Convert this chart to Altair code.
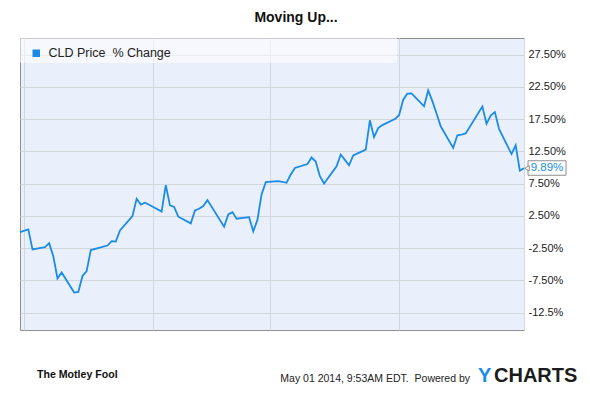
import altair as alt
import pandas as pd

# ---------------- data ----------------
DATES = [
    "2013-12-31",
    "2014-01-02", "2014-01-03", "2014-01-06", "2014-01-07", "2014-01-08", "2014-01-09", "2014-01-10",
    "2014-01-13", "2014-01-14", "2014-01-15", "2014-01-16", "2014-01-17", "2014-01-21", "2014-01-22",
    "2014-01-23", "2014-01-24", "2014-01-27", "2014-01-28", "2014-01-29", "2014-01-30", "2014-01-31",
    "2014-02-03", "2014-02-04", "2014-02-05", "2014-02-06", "2014-02-07", "2014-02-10", "2014-02-11",
    "2014-02-12", "2014-02-13", "2014-02-14", "2014-02-18", "2014-02-19", "2014-02-20", "2014-02-21",
    "2014-02-24", "2014-02-25", "2014-02-26", "2014-02-27", "2014-02-28",
    "2014-03-03", "2014-03-04", "2014-03-05", "2014-03-06", "2014-03-07", "2014-03-10", "2014-03-11",
    "2014-03-12", "2014-03-13", "2014-03-14", "2014-03-17", "2014-03-18", "2014-03-19", "2014-03-20",
    "2014-03-21", "2014-03-24", "2014-03-25", "2014-03-26", "2014-03-27", "2014-03-28", "2014-03-31",
    "2014-04-01", "2014-04-02", "2014-04-03", "2014-04-04", "2014-04-07", "2014-04-08", "2014-04-09",
    "2014-04-10", "2014-04-11", "2014-04-14", "2014-04-15", "2014-04-16", "2014-04-17", "2014-04-21",
    "2014-04-22", "2014-04-23", "2014-04-24", "2014-04-25", "2014-04-28", "2014-04-29", "2014-04-30",
    "2014-05-01",
]
PCT_CHANGE = [
    0.00,
    0.41, -2.69, -2.33, -1.73, -3.77, -7.21, -6.28,
    -9.39, -9.30, -6.82, -6.06, -2.79, -2.10, -1.42,
    -1.48, 0.26, 2.47, 5.16, 4.25, 4.54, 4.23,
    3.17, 7.27, 4.13, 3.89, 2.38, 1.34, 3.35,
    3.61, 4.02, 4.95, 0.83, 2.73, 3.09, 2.07,
    2.31, 0.10, 1.88, 5.83, 7.73,
    7.89, 7.79, 7.64, 8.92, 9.93, 10.55, 11.56,
    10.94, 8.66, 7.53, 10.21, 12.02, 11.20, 10.36,
    11.87, 12.79, 17.33, 14.73, 16.12, 16.59, 17.52,
    18.13, 20.53, 21.46, 21.51, 19.50, 21.97, 20.30,
    18.40, 16.40, 13.06, 15.01, 15.12, 15.30, 19.45,
    16.79, 18.06, 18.60, 16.01, 12.10, 13.46, 9.54,
    9.89,
]
SERIES_NAME = "CLD Price\u00a0 % Change"
TITLE = "Moving Up..."
X_DOMAIN = ["2013-12-31", "2014-05-01"]
MONTH_TICKS = ["2014-01-01", "2014-02-01", "2014-03-01", "2014-04-01", "2014-05-01"]
MONTH_LABELS = ["Jan '14", "Feb '14", "Mar '14", "Apr '14", "May '14"]
Y_DOMAIN = [-15.2, 30.1]
Y_TICKS = [-12.5, -7.5, -2.5, 2.5, 7.5, 12.5, 17.5, 22.5, 27.5]
Y_TICK_LABELS = ["-12.5%", "-7.50%", "-2.50%", "2.50%", "7.50%", "12.50%", "17.50%", "22.50%", "27.50%"]
FOOTER_BRAND = "The Motley Fool"
FOOTER_STAMP = "May 01 2014, 9:53AM EDT.\u00a0 Powered by"
YCHARTS_Y = "Y"
YCHARTS_REST = "CHARTS"

# ---------------- styling ----------------
FONT = "Liberation Sans"
LINE_COLOR = "#1a8ce8"
PLOT_BG = "#eaf0fb"
GRID = "#d3d6db"
BORDER = "#8e8e8e"
TEXT = "#222222"


def ms(s):
    return int(pd.Timestamp(s, tz="UTC").value // 10**6)


df = pd.DataFrame({"date": DATES, "pct": PCT_CHANGE, "series": SERIES_NAME})
last = df.tail(1).copy()
last["label"] = [f"{v:.2f}%" for v in last["pct"]]

month_ms = [ms(d) for d in MONTH_TICKS]
x_label_expr = " : ".join(
    f"datum.value == {m} ? \"{lab}\"" for m, lab in zip(month_ms, MONTH_LABELS)
) + " : ''"
y_label_expr = " : ".join(
    f"datum.value == {v} ? '{lab}'" for v, lab in zip(Y_TICKS, Y_TICK_LABELS)
) + " : ''"

x_enc = alt.X(
    "date:T",
    scale=alt.Scale(type="utc", domain=[ms(d) for d in X_DOMAIN]),
    axis=alt.Axis(
        title=None, values=month_ms, tickCount=len(month_ms) + 5, labelExpr=x_label_expr,
        grid=True, gridColor=GRID, ticks=False, domain=False, labelFlush=False,
        labelOverlap=False, labelPadding=5, labelFontSize=11, labelFont=FONT, labelColor=TEXT,
    ),
)
y_enc = alt.Y(
    "pct:Q",
    scale=alt.Scale(domain=Y_DOMAIN, nice=False, zero=False),
    axis=alt.Axis(
        title=None, orient="right", values=Y_TICKS, tickCount=len(Y_TICKS) + 5,
        labelExpr=y_label_expr, grid=True, gridColor=GRID, ticks=False, domain=False,
        labelOverlap=False, labelPadding=4, labelFontSize=11, labelFont=FONT, labelColor=TEXT,
    ),
)

band = alt.Chart(pd.DataFrame({"k": [SERIES_NAME]})).mark_rect(
    fill="white", opacity=0.55
).encode(x=alt.value(0), x2=alt.value(377), y=alt.value(0), y2=alt.value(25))

line = alt.Chart(df).mark_line(strokeWidth=1.8, interpolate="linear").encode(
    x=x_enc,
    y=y_enc,
    color=alt.Color(
        "series:N",
        scale=alt.Scale(range=[LINE_COLOR]),
        legend=alt.Legend(
            title=None, orient="none", legendX=10, legendY=9, symbolType="square",
            symbolSize=56, symbolFillColor=LINE_COLOR, symbolStrokeColor=LINE_COLOR,
            symbolStrokeWidth=0, labelFont=FONT, labelFontSize=12.5, labelColor=TEXT,
            labelOffset=6, padding=0,
        ),
    ),
)

callout_box = alt.Chart(last).mark_rect(
    fill="white", stroke=BORDER, strokeWidth=1, xOffset=4, x2Offset=42, yOffset=-7.5, y2Offset=7
).encode(x="date:T", x2="date:T", y="pct:Q", y2="pct:Q")

callout_tip = alt.Chart(last).mark_point(
    shape="triangle-left", size=28, filled=True, fill="white", stroke=BORDER,
    strokeWidth=1, xOffset=3, opacity=1
).encode(x="date:T", y="pct:Q")

callout_text = alt.Chart(last).mark_text(
    align="center", baseline="middle", dx=23, dy=0, font=FONT, fontSize=11.5, color=LINE_COLOR
).encode(x="date:T", y="pct:Q", text="label:N")

brand = alt.Chart(pd.DataFrame({"t": [FOOTER_BRAND]})).mark_text(
    align="left", baseline="middle", font=FONT, fontSize=10.6, fontWeight="bold", color="#111111"
).encode(x=alt.value(17), y=alt.value(337), text="t:N")

stamp = alt.Chart(pd.DataFrame({"t": [FOOTER_STAMP]})).mark_text(
    align="right", baseline="middle", font=FONT, fontSize=10.5, color=TEXT
).encode(x=alt.value(450), y=alt.value(341), text="t:N")

ych_y = alt.Chart(pd.DataFrame({"t": [YCHARTS_Y]})).mark_text(
    align="left", baseline="alphabetic", font=FONT, fontSize=20, fontWeight="bold", color=LINE_COLOR
).encode(x=alt.value(458), y=alt.value(344), text="t:N")

ych_rest = alt.Chart(pd.DataFrame({"t": [YCHARTS_REST]})).mark_text(
    align="left", baseline="alphabetic", font=FONT, fontSize=20, fontWeight="bold", color="#1c1c1c"
).encode(x=alt.value(474), y=alt.value(344), text="t:N")

chart = alt.layer(
    band, line, callout_box, callout_tip, callout_text, brand, stamp, ych_y, ych_rest
).properties(
    width=504,
    height=292,
    title=alt.TitleParams(
        text=TITLE, anchor="middle", frame="group", dx=24, dy=14, offset=16,
        baseline="alphabetic", font=FONT, fontSize=14, fontWeight="bold", color="#111111",
    ),
    autosize=alt.AutoSizeParams(type="none"),
    padding={"left": 12, "top": 30, "right": 58, "bottom": 56},
).configure(
    background="white",
    view=alt.ViewConfig(fill=PLOT_BG, stroke=BORDER, strokeWidth=1),
)

chart.save("out.html", embed_options={"renderer": "svg", "actions": False})
